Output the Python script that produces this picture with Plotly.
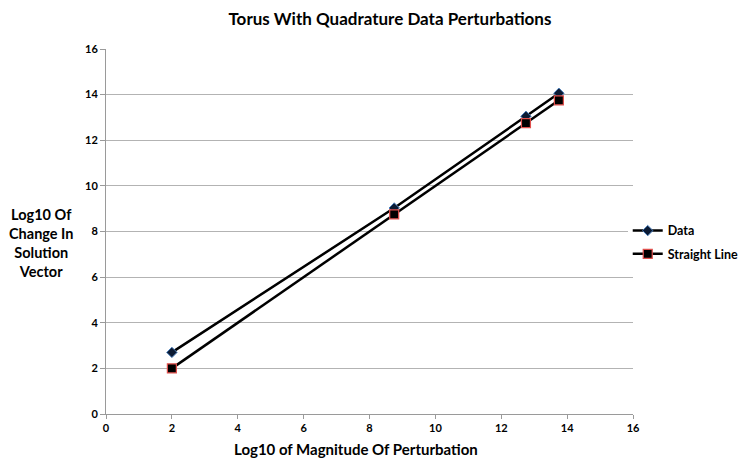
import plotly.graph_objects as go

x_vals = [2, 8.75, 12.75, 13.75]
data_vals = [2.7, 9.03, 13.05, 14.06]
straight_vals = [2, 8.75, 12.75, 13.75]

FONT = "Lato"

fig = go.Figure()
fig.add_trace(go.Scatter(
    x=x_vals, y=data_vals, mode="lines+markers", name="Data",
    legendgroup="a",
    line=dict(color="black", width=2.5),
    marker=dict(symbol="diamond", size=8, color="#0b1a33",
                line=dict(color="#4a7ebb", width=1)),
))
fig.add_trace(go.Scatter(
    x=x_vals, y=straight_vals, mode="lines+markers", name="Straight Line",
    legendgroup="b",
    line=dict(color="black", width=2.5),
    marker=dict(symbol="square", size=9, color="black",
                line=dict(color="#e0504d", width=1.2)),
))

fig.update_layout(
    width=746, height=461,
    margin=dict(l=98, r=121, t=41, b=55, autoexpand=False),
    paper_bgcolor="white", plot_bgcolor="white",
    font=dict(family=FONT, color="black", size=11),
    title=dict(text="<b>Torus With Quadrature Data Perturbations</b>",
               x=0.512, xanchor="center", y=0.976, yanchor="middle",
               font=dict(size=17, family=FONT)),
    xaxis=dict(range=[0, 16], dtick=2, showgrid=False,
               showline=True, linecolor="#9a9a9a", linewidth=1,
               ticks="outside", ticklen=4, tickcolor="#9a9a9a",
               tickfont=dict(size=11, family=FONT, weight="bold"),
               zeroline=False),
    yaxis=dict(range=[0, 16], dtick=2, showgrid=True, gridcolor="#b3b3b3",
               gridwidth=1,
               showline=True, linecolor="#9a9a9a", linewidth=1,
               ticks="outside", ticklen=5, tickcolor="#9a9a9a",
               tickfont=dict(size=11, family=FONT, weight="bold"),
               zeroline=False),
    legend=dict(x=0.99, y=0.47, xanchor="left", yanchor="middle",
                font=dict(size=12.5, family=FONT, weight="bold"),
                itemwidth=30, tracegroupgap=4),
    showlegend=True,
)

fig.add_annotation(
    text="<b>Log10 of Magnitude Of Perturbation</b>",
    xref="paper", yref="paper", x=0.474, y=-0.095,
    xanchor="center", yanchor="middle", showarrow=False,
    font=dict(size=15, family=FONT),
)

fig.add_annotation(
    text="<b>Log10 Of<br>Change In<br>Solution<br>Vector</b>",
    xref="paper", yref="paper", x=-0.123, y=0.468,
    xanchor="center", yanchor="middle", showarrow=False, align="center",
    font=dict(size=14.5, family=FONT),
)

fig.write_html("out.html")
